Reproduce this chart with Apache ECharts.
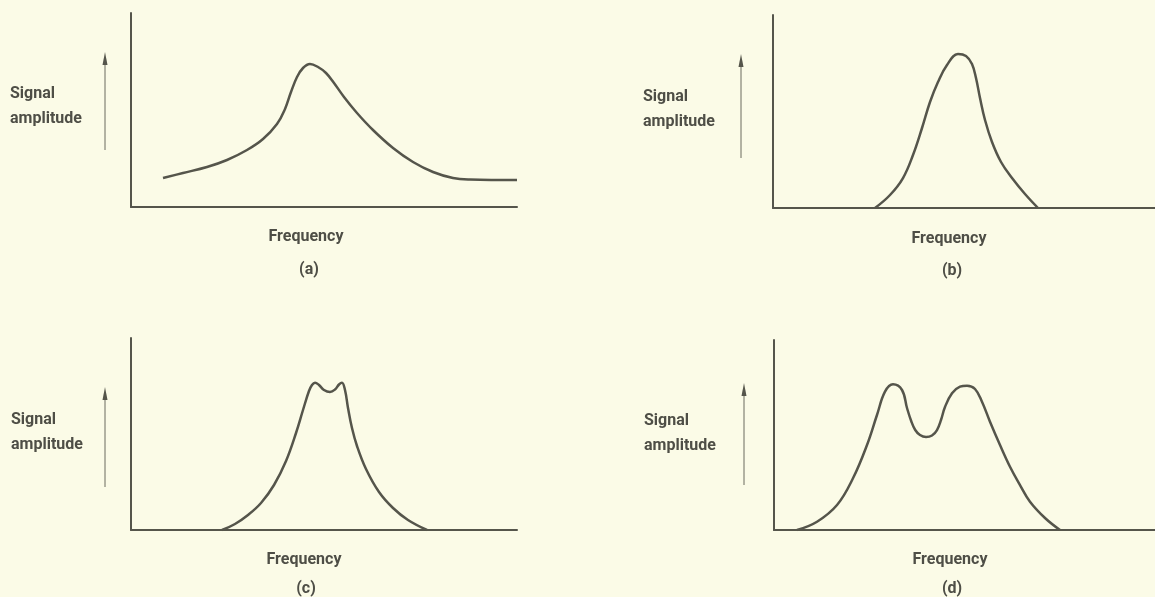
<!DOCTYPE html>
<html>
<head>
<meta charset="utf-8">
<script src="https://cdn.jsdelivr.net/npm/echarts@6/dist/echarts.min.js"></script>
<style>
  html, body { margin: 0; padding: 0; background: #fbfbe7; }
  #chart { width: 1155px; height: 597px; }
</style>
</head>
<body>
<div id="chart"></div>
<script>
  // frequency / amplitude, both in arbitrary units 0..100
  const aFreq = [8.29, 13.47, 19.69, 24.87, 30.05, 34.20, 37.82, 39.90, 41.45, 43.01, 44.56, 46.37, 48.45, 50.52, 52.59, 55.18, 58.55, 62.69, 67.88, 73.06, 78.24, 83.42, 87.82, 100];
  const aAmp = [14.95, 17.53, 20.62, 24.23, 29.38, 35.05, 42.78, 50.52, 59.28, 67.01, 71.65, 73.71, 72.16, 69.07, 63.92, 56.70, 48.45, 39.69, 30.41, 23.20, 18.04, 14.95, 14.18, 13.92];

  const bFreq = [26.70, 30.63, 34.03, 36.65, 39.01, 41.10, 43.19, 45.55, 48.43, 50.52, 52.09, 53.14, 54.19, 55.50, 57.33, 59.69, 62.57, 65.97, 69.37];
  const bAmp = [0, 6.74, 15.54, 27.46, 41.45, 54.92, 65.28, 74.09, 79.79, 78.76, 74.61, 67.36, 56.99, 45.60, 34.20, 23.83, 15.54, 7.25, 0];

  const cFreq = [23.58, 26.94, 30.31, 33.68, 37.05, 40.16, 42.75, 44.56, 46.11, 46.89, 47.67, 48.70, 50.00, 51.55, 52.85, 53.89, 54.66, 55.44, 56.22, 57.25, 58.55, 60.88, 64.25, 67.88, 71.76, 76.68];
  const cAmp = [0, 3.13, 7.81, 14.06, 23.44, 35.94, 50.52, 62.50, 72.40, 75.52, 76.72, 75.52, 72.92, 71.88, 73.18, 75.78, 76.72, 72.92, 63.54, 53.13, 43.75, 31.77, 19.79, 11.46, 5.21, 0];

  const dFreq = [6.04, 11.29, 16.54, 20.73, 24.41, 27.03, 29.13, 31.23, 33.60, 34.91, 36.01, 37.07, 38.32, 39.90, 41.47, 42.78, 43.83, 44.88, 46.72, 48.82, 50.66, 52.76, 54.59, 56.69, 59.32, 61.94, 64.57, 67.19, 71.13, 75.07];
  const dAmp = [0, 4.37, 13.16, 27.21, 44.74, 60.53, 72.79, 76.68, 73.68, 64.21, 57.37, 52.63, 50.00, 48.95, 49.74, 52.63, 57.89, 64.74, 71.95, 75.42, 75.95, 74.21, 67.53, 57.00, 44.74, 33.32, 23.68, 14.89, 6.32, 0];

  const panelLabels = ['(a)', '(b)', '(c)', '(d)'];
  const yName = 'Signal\namplitude';
  const xName = 'Frequency';

  const ink = '#55554b';
  const textInk = '#4e4e46';
  const font = 'bold 16px Roboto';

  const grids = [
    { left: 131, top: 13, width: 386, height: 194 },
    { left: 773, top: 15, width: 382, height: 193 },
    { left: 131, top: 338, width: 386, height: 192 },
    { left: 774, top: 340, width: 381, height: 190 },
  ];

  const curves = [
    [aFreq, aAmp],
    [bFreq, bAmp],
    [cFreq, cAmp],
    [dFreq, dAmp],
  ];

  const axisCommon = {
    type: 'value',
    min: 0,
    max: 100,
    axisLine: { show: true, onZero: false, lineStyle: { color: ink, width: 2 } },
    axisTick: { show: false },
    axisLabel: { show: false },
    splitLine: { show: false },
  };

  // text and arrow placement per panel
  const textPos = [
    { yx: 10, yy: 81, fx: 306, fy: 237, lx: 309, ly: 270, ax: 105, aTop: 52, aBot: 150 },
    { yx: 643, yy: 84, fx: 949, fy: 239, lx: 952, ly: 271, ax: 741, aTop: 54, aBot: 158 },
    { yx: 11, yy: 407, fx: 304, fy: 560, lx: 306, ly: 589, ax: 105, aTop: 387, aBot: 487 },
    { yx: 644, yy: 408, fx: 950, fy: 560, lx: 952, ly: 589, ax: 744, aTop: 383, aBot: 485 },
  ];

  const graphic = [];
  textPos.forEach((p, i) => {
    graphic.push({
      type: 'text', left: p.yx, top: p.yy,
      style: { text: yName, font: font, fill: textInk, lineHeight: 25 },
    });
    graphic.push({
      type: 'text', x: p.fx, y: p.fy,
      style: { text: xName, font: font, fill: textInk, align: 'center', verticalAlign: 'middle' },
    });
    graphic.push({
      type: 'text', x: p.lx, y: p.ly,
      style: { text: panelLabels[i], font: font, fill: textInk, align: 'center', verticalAlign: 'middle' },
    });
    graphic.push({
      type: 'line',
      shape: { x1: p.ax, y1: p.aTop + 8, x2: p.ax, y2: p.aBot },
      style: { stroke: '#6a6a5e', lineWidth: 1 },
    });
    graphic.push({
      type: 'polygon',
      shape: { points: [[p.ax, p.aTop], [p.ax - 2.5, p.aTop + 13], [p.ax + 2.5, p.aTop + 13]] },
      style: { fill: ink },
    });
  });

  const option = {
    backgroundColor: '#fbfbe7',
    animation: false,
    grid: grids,
    xAxis: grids.map((g, i) => ({ ...axisCommon, gridIndex: i })),
    yAxis: grids.map((g, i) => ({ ...axisCommon, gridIndex: i })),
    graphic,
    series: curves.map(([xs, ys], i) => ({
      type: 'line',
      xAxisIndex: i,
      yAxisIndex: i,
      smooth: 0.4,
      showSymbol: false,
      lineStyle: { color: ink, width: 2.5 },
      data: xs.map((x, k) => [x, ys[k]]),
    })),
  };

  const chart = echarts.init(document.getElementById('chart'));
  chart.setOption(option);
</script>
</body>
</html>
